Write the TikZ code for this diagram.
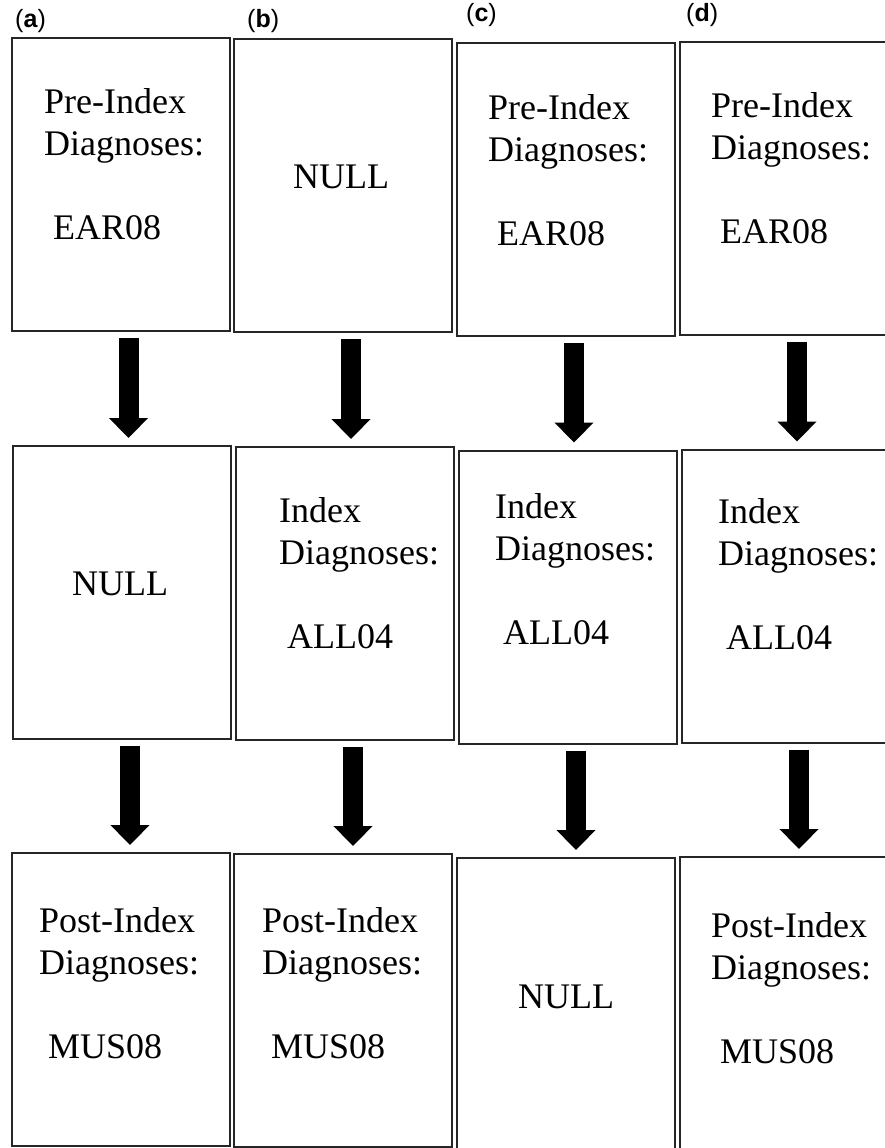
\documentclass[tikz,border=0pt]{standalone}
\usepackage{fontspec}
\setmainfont{Liberation Serif}
\setsansfont{Liberation Sans}
\usetikzlibrary{arrows.meta}

\begin{document}
\begin{tikzpicture}[
			x=1pt, y=-1pt,
			box/.style={rectangle, draw=black!85, line width=2pt, minimum width=218pt, minimum height=293pt, inner sep=0pt},
			txt/.style={anchor=base west, inner sep=0pt, text width=200pt, align=left, font=\fontsize{36}{42}\selectfont},
			tag/.style={anchor=base west, inner sep=0pt, font=\sffamily\fontsize{25}{28}\selectfont},
			bigarrow/.style={draw, line width=20pt, -{Triangle[width=38pt,length=20pt]}, shorten <=6pt, shorten >=7pt}
			]
			\useasboundingbox (0,0) rectangle (885,1148);
			% Panels
			\node [tag] (taga) at (15,28) {(\textbf{a})};
			\node [tag] (tagb) at (247,28) {(\textbf{b})};
			\node [tag] (tagc) at (466,22) {(\textbf{c})};
			\node [tag] (tagd) at (686,22) {(\textbf{d})};
			
			% Boxes
			\node [box] (a1) at (120.5,184.5) {};
			\node [box] (b1) at (343,185.5) {};
			\node [box] (c1) at (566,189.5) {};
			\node [box] (d1) at (789,188.5) {};
			\node [box] (a2) at (122,592.5) {};
			\node [box] (b2) at (345,593.5) {};
			\node [box] (c2) at (568,597) {};
			\node [box] (d2) at (791,596) {};
			\node [box] (a3) at (121,999.5) {};
			\node [box] (b3) at (343,1000.5) {};
			\node [box] (c3) at (566,1004.5) {};
			\node [box] (d3) at (789,1003.5) {};
			
			% Texts
			\node [txt] (a1t) at (44,113) {Pre-Index\\Diagnoses:\\[42pt]\hspace*{9pt}EAR08};
			\node [txt] (b1t) at (293,188) {NULL};
			\node [txt] (c1t) at (488,119) {Pre-Index\\Diagnoses:\\[42pt]\hspace*{9pt}EAR08};
			\node [txt] (d1t) at (711,117) {Pre-Index\\Diagnoses:\\[42pt]\hspace*{9pt}EAR08};
			\node [txt] (a2t) at (72,595) {NULL};
			\node [txt] (b2t) at (279,522) {Index\\Diagnoses:\\[42pt]\hspace*{8pt}ALL04};
			\node [txt] (c2t) at (495,518) {Index\\Diagnoses:\\[42pt]\hspace*{8pt}ALL04};
			\node [txt] (d2t) at (718,523) {Index\\Diagnoses:\\[42pt]\hspace*{8pt}ALL04};
			\node [txt] (a3t) at (39,932) {Post-Index\\Diagnoses:\\[42pt]\hspace*{9pt}MUS08};
			\node [txt] (b3t) at (262,932) {Post-Index\\Diagnoses:\\[42pt]\hspace*{9pt}MUS08};
			\node [txt] (c3t) at (518,1008) {NULL};
			\node [txt] (d3t) at (711,937) {Post-Index\\Diagnoses:\\[42pt]\hspace*{9pt}MUS08};
			
			% Arrows
			\path [bigarrow] ([xshift=8pt]a1.south) -- ([xshift=8pt]a1.south |- a2.north);
			\path [bigarrow] ([xshift=8pt]b1.south) -- ([xshift=8pt]b1.south |- b2.north);
			\path [bigarrow] ([xshift=8pt]c1.south) -- ([xshift=8pt]c1.south |- c2.north);
			\path [bigarrow] ([xshift=8pt]d1.south) -- ([xshift=8pt]d1.south |- d2.north);
			\path [bigarrow] ([xshift=8pt]a2.south) -- ([xshift=8pt]a2.south |- a3.north);
			\path [bigarrow] ([xshift=8pt]b2.south) -- ([xshift=8pt]b2.south |- b3.north);
			\path [bigarrow] ([xshift=8pt]c2.south) -- ([xshift=8pt]c2.south |- c3.north);
			\path [bigarrow] ([xshift=8pt]d2.south) -- ([xshift=8pt]d2.south |- d3.north);
		\end{tikzpicture}
\end{document}
